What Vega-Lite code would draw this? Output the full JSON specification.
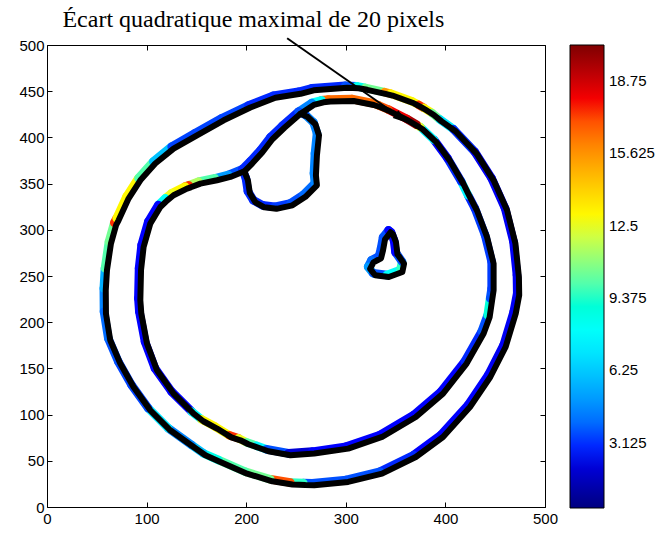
{
  "$schema": "https://vega.github.io/schema/vega-lite/v6.json",
  "width": 498,
  "height": 462,
  "autosize": "none",
  "padding": {"left": 47, "top": 45, "right": 116, "bottom": 26},
  "background": "white",
  "config": {
    "view": {"stroke": "black", "strokeWidth": 1},
    "axis": {"grid": false, "domain": false, "tickColor": "black", "labelColor": "black", "labelFont": "Liberation Sans", "labelFontSize": 15, "tickSize": -5, "tickWidth": 1, "labelFlush": false}
  },
  "datasets": {
    "pts": [
      {"c":"o","i":1,"x":59.2,"y":209.3,"v":4.5},
      {"c":"o","i":2,"x":59.0,"y":234.5,"v":5.5},
      {"c":"o","i":3,"x":60.2,"y":256.2,"v":10},
      {"c":"o","i":4,"x":64.2,"y":285.1,"v":10.5},
      {"c":"o","i":5,"x":69.5,"y":305.4,"v":17.5},
      {"c":"o","i":6,"x":71.9,"y":310.3,"v":13},
      {"c":"o","i":7,"x":81.9,"y":333.8,"v":13},
      {"c":"o","i":8,"x":93.7,"y":353.6,"v":10},
      {"c":"o","i":9,"x":108.7,"y":371.7,"v":6},
      {"c":"o","i":10,"x":127.1,"y":387.9,"v":3.3},
      {"c":"o","i":11,"x":150.6,"y":402.3,"v":3.3},
      {"c":"o","i":12,"x":177.4,"y":418.5,"v":3.3},
      {"c":"o","i":13,"x":204.2,"y":432.3,"v":3},
      {"c":"o","i":14,"x":229.3,"y":442.9,"v":3},
      {"c":"o","i":15,"x":254.5,"y":447.2,"v":3},
      {"c":"o","i":16,"x":267.8,"y":451.0,"v":3},
      {"c":"o","i":17,"x":301.4,"y":453.7,"v":3.5},
      {"c":"o","i":18,"x":312.8,"y":453.2,"v":8.5},
      {"c":"o","i":19,"x":321.5,"y":451.5,"v":10.5},
      {"c":"o","i":20,"x":340.9,"y":446.9,"v":15.5},
      {"c":"o","i":21,"x":346.9,"y":445.3,"v":13},
      {"c":"o","i":22,"x":368.3,"y":436.9,"v":13},
      {"c":"o","i":23,"x":375.1,"y":433.1,"v":17.5},
      {"c":"o","i":24,"x":380.1,"y":429.9,"v":13},
      {"c":"o","i":25,"x":388.4,"y":424.3,"v":10.5},
      {"c":"o","i":26,"x":396.2,"y":417.4,"v":7},
      {"c":"o","i":27,"x":410.2,"y":406.6,"v":3},
      {"c":"o","i":28,"x":431.3,"y":382.5,"v":2.6},
      {"c":"o","i":29,"x":448.4,"y":353.6,"v":2.6},
      {"c":"o","i":30,"x":461.9,"y":321.1,"v":2.6},
      {"c":"o","i":31,"x":470.3,"y":285.1,"v":2.6},
      {"c":"o","i":32,"x":473.8,"y":248.9,"v":2.6},
      {"c":"o","i":33,"x":474.1,"y":229.1,"v":2.6},
      {"c":"o","i":34,"x":470.6,"y":209.3,"v":2.6},
      {"c":"o","i":35,"x":460.5,"y":173.2,"v":2.6},
      {"c":"o","i":36,"x":445.1,"y":140.7,"v":2.8},
      {"c":"o","i":37,"x":424.7,"y":108.2,"v":2.8},
      {"c":"o","i":38,"x":397.6,"y":75.8,"v":2.8},
      {"c":"o","i":39,"x":370.3,"y":54.1,"v":3},
      {"c":"o","i":40,"x":336.4,"y":36.1,"v":3.5},
      {"c":"o","i":41,"x":302.4,"y":27.1,"v":3.5},
      {"c":"o","i":42,"x":268.3,"y":23.5,"v":3.5},
      {"c":"o","i":43,"x":259.5,"y":23.7,"v":9.5},
      {"c":"o","i":44,"x":246.4,"y":24.4,"v":17},
      {"c":"o","i":45,"x":226.3,"y":27.8,"v":10.5},
      {"c":"o","i":46,"x":200.9,"y":36.1,"v":10},
      {"c":"o","i":47,"x":174.1,"y":48.7,"v":8.5},
      {"c":"o","i":48,"x":159.0,"y":56.0,"v":6},
      {"c":"o","i":49,"x":147.2,"y":64.9,"v":4.5},
      {"c":"o","i":50,"x":123.8,"y":83.0,"v":7},
      {"c":"o","i":51,"x":103.7,"y":104.7,"v":3.3},
      {"c":"o","i":52,"x":86.9,"y":129.9,"v":3.3},
      {"c":"o","i":53,"x":73.6,"y":155.2,"v":3.5},
      {"c":"o","i":54,"x":63.5,"y":180.4,"v":4},
      {"c":"o","i":55,"x":59.2,"y":209.3,"v":4},

      {"c":"n","i":1,"x":198.2,"y":363.3,"v":3.5},
      {"c":"n","i":2,"x":184.1,"y":357.2,"v":5},
      {"c":"n","i":3,"x":170.7,"y":353.6,"v":10},
      {"c":"n","i":4,"x":154.0,"y":350.0,"v":11.5},
      {"c":"n","i":5,"x":144.4,"y":346.0,"v":17.5},
      {"c":"n","i":6,"x":140.6,"y":344.6,"v":13},
      {"c":"n","i":7,"x":127.1,"y":337.4,"v":12.5},
      {"c":"n","i":8,"x":120.8,"y":331.9,"v":8},
      {"c":"n","i":9,"x":113.8,"y":324.7,"v":2.8},
      {"c":"n","i":10,"x":103.7,"y":306.7,"v":2.8},
      {"c":"n","i":11,"x":97.0,"y":281.4,"v":2.8},
      {"c":"n","i":12,"x":94.4,"y":256.2,"v":2.8},
      {"c":"n","i":13,"x":93.7,"y":223.7,"v":2.8},
      {"c":"n","i":14,"x":94.7,"y":209.3,"v":2.8},
      {"c":"n","i":15,"x":100.4,"y":176.8,"v":2.8},
      {"c":"n","i":16,"x":110.4,"y":148.0,"v":2.8},
      {"c":"n","i":17,"x":127.1,"y":122.7,"v":2.8},
      {"c":"n","i":18,"x":147.2,"y":101.1,"v":8},
      {"c":"n","i":19,"x":157.0,"y":92.8,"v":13},
      {"c":"n","i":20,"x":170.7,"y":84.9,"v":13},
      {"c":"n","i":21,"x":185.1,"y":75.4,"v":17.5},
      {"c":"n","i":22,"x":194.2,"y":72.2,"v":12.5},
      {"c":"n","i":23,"x":202.2,"y":67.9,"v":10},
      {"c":"n","i":24,"x":212.3,"y":64.1,"v":7.5},
      {"c":"n","i":25,"x":222.3,"y":60.3,"v":3.5},
      {"c":"n","i":26,"x":244.4,"y":56.0,"v":2},
      {"c":"n","i":27,"x":268.3,"y":57.8,"v":2.8},
      {"c":"n","i":28,"x":302.4,"y":63.2,"v":2.8},
      {"c":"n","i":29,"x":336.4,"y":75.8,"v":2.8},
      {"c":"n","i":30,"x":370.3,"y":97.4,"v":2.8},
      {"c":"n","i":31,"x":397.6,"y":122.7,"v":2.8},
      {"c":"n","i":32,"x":421.3,"y":155.2,"v":3},
      {"c":"n","i":33,"x":438.4,"y":187.7,"v":3.5},
      {"c":"n","i":34,"x":444.4,"y":205.3,"v":9},
      {"c":"n","i":35,"x":446.9,"y":223.7,"v":3.5},
      {"c":"n","i":36,"x":448.4,"y":234.5,"v":3.2},
      {"c":"n","i":37,"x":448.4,"y":263.4,"v":3.2},
      {"c":"n","i":38,"x":441.8,"y":292.2,"v":3.2},
      {"c":"n","i":39,"x":431.6,"y":321.1,"v":3},
      {"c":"n","i":40,"x":424.8,"y":335.2,"v":7.5},
      {"c":"n","i":41,"x":418.0,"y":350.0,"v":3},
      {"c":"n","i":42,"x":404.2,"y":375.2,"v":2.8},
      {"c":"n","i":43,"x":390.7,"y":395.0,"v":7.5},
      {"c":"n","i":44,"x":377.1,"y":408.8,"v":12.5},
      {"c":"n","i":45,"x":373.1,"y":411.5,"v":19.5},
      {"c":"n","i":46,"x":363.0,"y":418.0,"v":18},
      {"c":"n","i":47,"x":344.9,"y":427.9,"v":17},
      {"c":"n","i":48,"x":334.9,"y":432.6,"v":16.5},
      {"c":"n","i":49,"x":328.1,"y":435.1,"v":16.5},
      {"c":"n","i":50,"x":308.0,"y":439.4,"v":16.5},
      {"c":"n","i":51,"x":284.6,"y":438.8,"v":16.5},
      {"c":"n","i":52,"x":277.6,"y":438.0,"v":8},
      {"c":"n","i":53,"x":267.8,"y":435.1,"v":4.5},
      {"c":"n","i":54,"x":254.5,"y":425.6,"v":3},
      {"c":"n","i":55,"x":238.4,"y":410.4,"v":3},
      {"c":"n","i":56,"x":226.3,"y":398.0,"v":3},
      {"c":"n","i":57,"x":216.3,"y":383.9,"v":3},
      {"c":"n","i":58,"x":206.2,"y":372.0,"v":3},
      {"c":"n","i":59,"x":198.2,"y":363.3,"v":3},

      {"c":"b","i":1,"x":198.2,"y":363.3,"v":3},
      {"c":"b","i":2,"x":201.7,"y":353.6,"v":3},
      {"c":"b","i":3,"x":203.7,"y":339.5,"v":3},
      {"c":"b","i":4,"x":209.2,"y":329.8,"v":3},
      {"c":"b","i":5,"x":218.3,"y":324.4,"v":3},
      {"c":"b","i":6,"x":230.3,"y":322.7,"v":3.2},
      {"c":"b","i":7,"x":246.4,"y":326.5,"v":3.5},
      {"c":"b","i":8,"x":259.5,"y":335.7,"v":4},
      {"c":"b","i":9,"x":271.0,"y":348.2,"v":4.5},
      {"c":"b","i":10,"x":270.0,"y":359.0,"v":4.5},
      {"c":"b","i":11,"x":271.0,"y":380.6,"v":4.5},
      {"c":"b","i":12,"x":273.1,"y":402.3,"v":4.5},
      {"c":"b","i":13,"x":269.5,"y":414.2,"v":4.5},
      {"c":"b","i":14,"x":261.5,"y":422.3,"v":3.5},
      {"c":"b","i":15,"x":254.5,"y":425.6,"v":3.5},

      {"c":"k","i":1,"x":344.9,"y":297.3,"v":3.5},
      {"c":"k","i":2,"x":339.4,"y":289.7,"v":3.5},
      {"c":"k","i":3,"x":337.4,"y":277.8,"v":3.5},
      {"c":"k","i":4,"x":335.4,"y":269.2,"v":3.5},
      {"c":"k","i":5,"x":327.8,"y":264.8,"v":4},
      {"c":"k","i":6,"x":324.4,"y":257.8,"v":5},
      {"c":"k","i":7,"x":329.5,"y":250.8,"v":3.5},
      {"c":"k","i":8,"x":343.2,"y":248.9,"v":8},
      {"c":"k","i":9,"x":356.8,"y":254.3,"v":9.5},
      {"c":"k","i":10,"x":358.5,"y":263.4,"v":3.5},
      {"c":"k","i":11,"x":351.9,"y":273.5,"v":2.8},
      {"c":"k","i":12,"x":350.4,"y":286.5,"v":2.8},
      {"c":"k","i":13,"x":347.4,"y":295.1,"v":2.8},
      {"c":"k","i":14,"x":344.9,"y":297.3,"v":2.8}
    ],
    "arrow": [
      {"i":1,"x":241.1,"y":507.3},
      {"i":2,"x":357.5,"y":419.6}
    ],
    "head": [
      {"x":356.5,"y":420.3}
    ],
    "lbl": [
      {"x":207.2,"y":519.9,"t":"Écart quadratique maximal de 20 pixels"}
    ]
  },
  "resolve": {"axis": {"x": "independent", "y": "independent"}},
  "layer": [
    {
      "data": {"name": "pts"},
      "transform": [
        {"window": [{"op": "lead", "field": "x", "as": "x2"}, {"op": "lead", "field": "y", "as": "y2"}], "groupby": ["c"], "sort": [{"field": "i", "order": "ascending"}]},
        {"filter": "datum.x2 != null"}
      ],
      "mark": {"type": "rule", "strokeWidth": 8.5, "strokeCap": "round", "xOffset": -2, "yOffset": -2, "x2Offset": -2, "y2Offset": -2},
      "encoding": {
        "x": {"field": "x", "type": "quantitative", "scale": {"domain": [0, 500], "nice": false, "zero": false},
              "axis": {"orient": "bottom", "values": [0, 100, 200, 300, 400, 500], "title": null, "labelPadding": 9}},
        "y": {"field": "y", "type": "quantitative", "scale": {"domain": [0, 500], "nice": false, "zero": false},
              "axis": {"orient": "left", "values": [0, 50, 100, 150, 200, 250, 300, 350, 400, 450, 500], "title": null, "labelPadding": 8}},
        "x2": {"field": "x2"},
        "y2": {"field": "y2"},
        "color": {
          "field": "v", "type": "quantitative",
          "scale": {"type": "linear", "domain": [0.3, 2.8, 7.8, 12.8, 17.8, 20.3], "range": ["#000080", "#0000ff", "#00ffff", "#ffff00", "#ff0000", "#800000"]},
          "legend": {
            "orient": "none", "legendX": 523, "legendY": 0, "direction": "vertical",
            "gradientLength": 463, "gradientThickness": 34,
            "gradientStrokeColor": "black", "gradientStrokeWidth": 1,
            "values": [3.125, 6.25, 9.375, 12.5, 15.625, 18.75],
            "labelExpr": "'' + datum.value",
            "labelFont": "Liberation Sans", "labelFontSize": 15, "labelColor": "black",
            "labelOffset": 5, "labelOverlap": false, "title": null
          }
        }
      }
    },
    {
      "data": {"name": "pts"},
      "mark": {"type": "line", "color": "black", "strokeWidth": 6, "strokeJoin": "round", "strokeCap": "round"},
      "encoding": {
        "x": {"field": "x", "type": "quantitative", "scale": {"domain": [0, 500], "nice": false, "zero": false},
              "axis": {"orient": "top", "values": [0, 100, 200, 300, 400, 500], "labels": false, "title": null}},
        "y": {"field": "y", "type": "quantitative", "scale": {"domain": [0, 500], "nice": false, "zero": false},
              "axis": {"orient": "right", "values": [0, 50, 100, 150, 200, 250, 300, 350, 400, 450, 500], "labels": false, "title": null}},
        "detail": {"field": "c"},
        "order": {"field": "i", "type": "quantitative"}
      }
    },
    {
      "data": {"name": "arrow"},
      "mark": {"type": "line", "color": "black", "strokeWidth": 2},
      "encoding": {
        "x": {"field": "x", "type": "quantitative", "scale": {"domain": [0, 500], "nice": false, "zero": false}, "axis": null},
        "y": {"field": "y", "type": "quantitative", "scale": {"domain": [0, 500], "nice": false, "zero": false}, "axis": null},
        "order": {"field": "i", "type": "quantitative"}
      }
    },
    {
      "data": {"name": "head"},
      "mark": {"type": "point", "shape": "M1,0L-1,-0.6L-1,0.6Z", "size": 256, "angle": 34.8, "filled": true, "color": "black", "opacity": 1},
      "encoding": {
        "x": {"field": "x", "type": "quantitative", "scale": {"domain": [0, 500], "nice": false, "zero": false}, "axis": null},
        "y": {"field": "y", "type": "quantitative", "scale": {"domain": [0, 500], "nice": false, "zero": false}, "axis": null}
      }
    },
    {
      "data": {"name": "lbl"},
      "mark": {"type": "text", "font": "Liberation Serif", "fontSize": 24, "align": "center", "baseline": "alphabetic", "color": "black"},
      "encoding": {
        "x": {"field": "x", "type": "quantitative", "scale": {"domain": [0, 500], "nice": false, "zero": false}, "axis": null},
        "y": {"field": "y", "type": "quantitative", "scale": {"domain": [0, 500], "nice": false, "zero": false}, "axis": null},
        "text": {"field": "t"}
      }
    }
  ]
}
